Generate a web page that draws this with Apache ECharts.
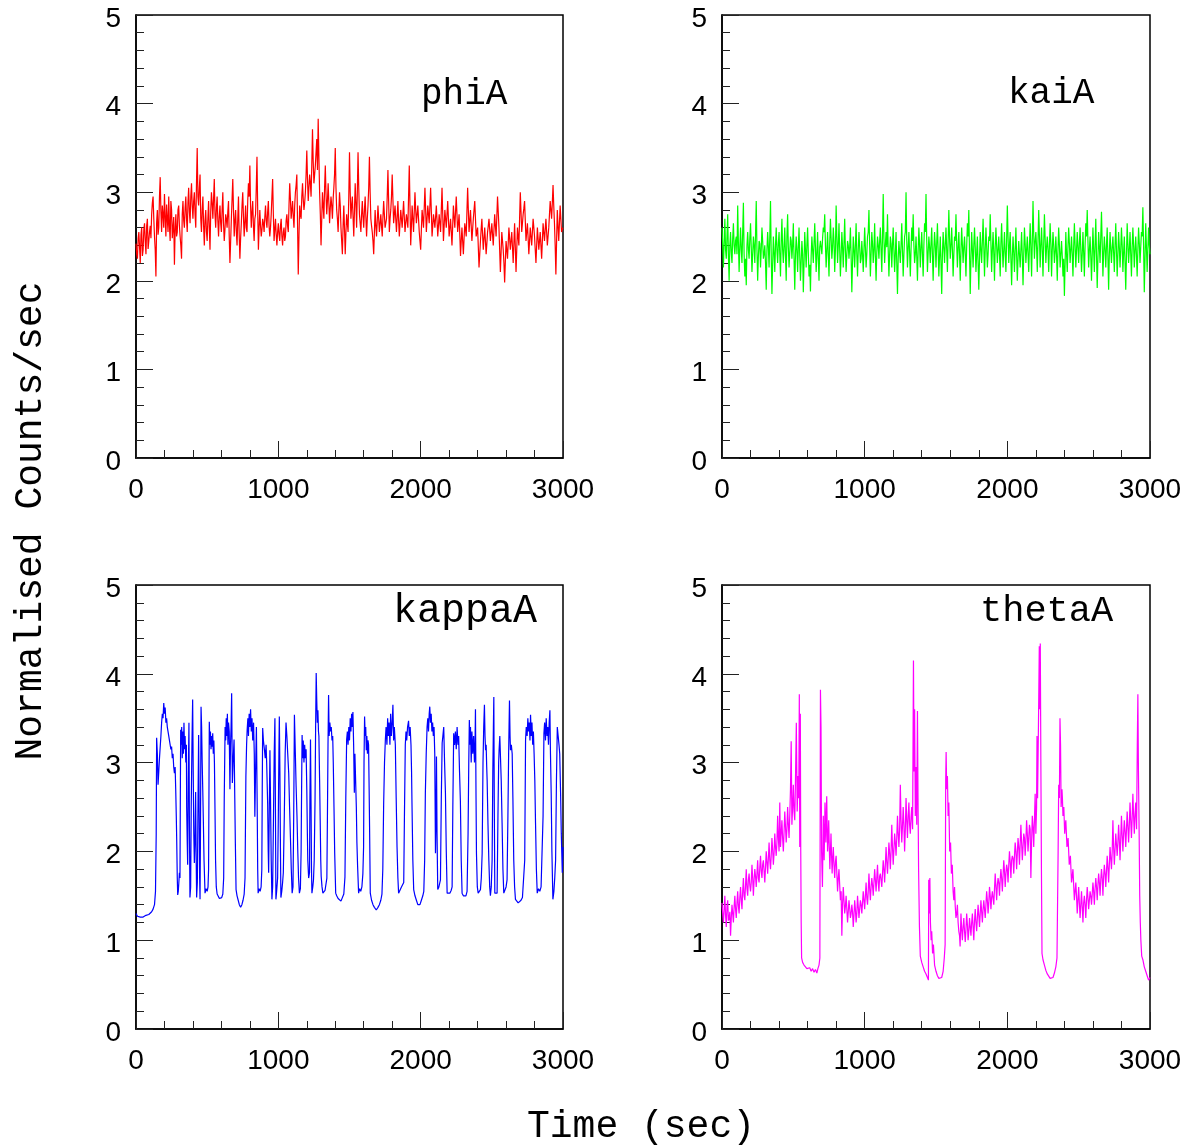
<!DOCTYPE html>
<html><head><meta charset="utf-8">
<script src="https://cdn.jsdelivr.net/npm/echarts@6/dist/echarts.min.js"></script>
<style>html,body{margin:0;padding:0;background:#fff}#c{width:1189px;height:1148px}</style>
</head><body><div id="c"></div><script>
// ---- data ----
const SAMPLE_STEP = 10; // seconds between main samples for phiA / kaiA (mid samples sit halfway)
const panelNames = ['phiA', 'kaiA', 'kappaA', 'thetaA'];
const panelColors = ['#ff0000', '#00ff00', '#0000ff', '#ff00ff'];
const xAxisTitle = 'Time (sec)';
const yAxisTitle = 'Normalised Counts/sec';

const phiValues = [
2.42,2.25,2.55,2.20,2.60,2.35,2.65,2.30,2.70,2.45,
2.62,2.75,2.95,2.50,2.05,2.80,2.60,3.17,2.55,2.75,
2.98,2.50,2.70,2.95,2.45,2.80,2.60,2.18,2.75,2.55,
2.85,2.50,2.25,2.90,2.60,2.95,2.55,3.05,2.65,3.10,
2.70,3.00,2.60,3.50,2.85,3.20,2.55,2.95,2.40,2.80,
2.45,2.90,2.35,3.00,2.70,3.15,2.60,2.95,2.50,2.85,
2.55,3.00,2.45,2.75,2.60,2.90,2.20,2.70,3.15,2.50,
2.80,2.40,2.95,2.25,2.65,3.00,2.50,2.85,2.55,3.10,
3.30,2.60,2.90,2.45,2.75,3.40,2.35,2.80,2.50,2.70,
2.55,2.85,2.60,2.90,2.50,2.75,3.15,2.45,2.70,2.40,
2.65,2.45,2.70,2.40,2.60,2.50,2.75,2.55,3.10,2.70,
2.90,2.60,3.00,3.20,2.07,2.85,2.70,3.10,2.80,3.00,
3.47,2.90,3.20,2.95,3.71,3.10,3.30,3.60,3.83,3.00,
2.40,3.00,2.70,3.30,2.75,3.10,2.65,2.95,2.70,3.05,
3.50,2.80,2.55,3.00,2.60,2.30,2.85,2.30,2.75,2.55,
3.45,2.70,2.95,2.50,3.10,2.60,3.45,2.75,2.55,2.90,
2.60,2.95,2.50,2.85,3.40,2.70,2.55,2.30,2.80,2.50,
2.85,2.55,2.75,2.50,2.90,2.60,2.70,3.25,2.55,2.80,
3.20,2.65,2.85,2.55,2.90,2.50,2.80,2.60,2.90,2.55,
2.75,2.60,3.30,2.40,2.85,2.55,3.00,2.65,2.85,2.55,
2.35,2.80,2.60,3.05,2.55,2.85,2.65,3.05,2.50,2.75,
2.60,2.85,2.50,2.75,2.55,3.05,2.45,2.80,2.60,2.90,
2.50,2.70,2.40,2.85,2.60,2.95,2.55,2.75,2.28,2.60,
2.30,2.65,2.50,3.05,2.55,2.80,2.45,2.70,2.90,2.50,
2.60,2.15,2.45,2.70,2.35,2.60,2.30,2.55,2.70,2.45,
2.65,2.40,2.75,2.50,2.95,2.60,2.10,2.55,2.35,1.98,
2.45,2.25,2.60,2.35,2.55,2.20,2.65,2.10,2.60,2.40,
3.00,2.55,2.75,2.90,2.45,2.65,2.30,2.60,2.40,2.70,
2.50,2.20,2.60,2.35,2.55,2.25,2.65,2.45,2.70,2.40,
2.60,2.90,2.70,3.08,2.65,2.07,2.80,2.45,2.85,2.55,
2.60];

const phiMidValues = [
2.30,2.48,2.38,2.52,2.28,2.58,2.44,2.62,2.36,2.55,
2.48,2.88,2.70,2.35,2.66,2.52,2.95,2.78,2.85,2.60,
2.72,2.86,2.55,2.62,2.90,2.48,2.72,2.58,2.50,2.80,
2.62,2.40,2.75,2.68,2.82,2.70,2.88,2.78,2.95,2.85,
2.90,2.75,3.10,2.95,3.05,2.70,2.80,2.62,2.68,2.55,
2.70,2.60,2.78,2.88,2.92,2.75,2.82,2.68,2.72,2.65,
2.80,2.65,2.58,2.70,2.78,2.50,2.45,2.92,2.80,2.68,
2.55,2.70,2.52,2.48,2.85,2.72,2.66,2.60,2.90,2.95,
2.85,2.78,2.62,2.70,3.05,2.80,2.60,2.62,2.58,2.65,
2.72,2.68,2.78,2.62,2.60,2.95,2.75,2.58,2.52,2.55,
2.52,2.62,2.50,2.55,2.45,2.68,2.62,2.85,2.92,2.80,
2.72,2.85,3.08,2.65,2.50,2.75,2.95,2.92,2.88,3.20,
3.15,3.05,3.10,3.30,3.35,3.20,3.45,3.25,3.40,2.75,
2.70,2.85,3.05,2.98,2.90,2.88,2.82,2.85,2.92,3.20,
3.05,2.70,2.78,2.85,2.45,2.62,2.58,2.55,2.65,2.95,
3.00,2.85,2.72,2.80,2.88,3.00,3.05,2.65,2.75,2.72,
2.80,2.72,2.70,3.05,3.00,2.62,2.45,2.55,2.62,2.68,
2.70,2.65,2.62,2.72,2.75,2.65,2.95,2.90,2.70,2.95,
2.92,2.75,2.70,2.72,2.68,2.65,2.70,2.75,2.72,2.65,
2.68,2.95,2.85,2.62,2.70,2.78,2.80,2.75,2.70,2.45,
2.58,2.70,2.82,2.80,2.70,2.75,2.85,2.78,2.62,2.68,
2.72,2.68,2.62,2.65,2.80,2.75,2.62,2.70,2.75,2.70,
2.60,2.55,2.62,2.72,2.78,2.75,2.65,2.52,2.45,2.45,
2.48,2.58,2.78,2.80,2.68,2.62,2.58,2.80,2.70,2.55,
2.38,2.30,2.58,2.52,2.48,2.45,2.42,2.62,2.58,2.55,
2.52,2.58,2.62,2.72,2.78,2.35,2.32,2.45,2.20,2.22,
2.35,2.42,2.48,2.45,2.38,2.42,2.38,2.35,2.50,2.70,
2.78,2.65,2.82,2.68,2.55,2.48,2.45,2.50,2.55,2.60,
2.35,2.40,2.48,2.45,2.40,2.45,2.55,2.58,2.55,2.50,
2.75,2.80,2.88,2.85,2.40,2.45,2.62,2.65,2.70,2.58];

const kaiValues = [
2.60,2.15,2.70,2.25,2.75,2.00,2.55,2.20,2.65,2.30,
2.50,2.85,2.10,2.60,2.20,2.88,2.05,1.95,2.55,2.25,
2.65,2.10,2.50,2.20,2.90,2.00,2.45,2.15,2.60,2.25,
2.40,1.90,2.55,2.15,2.90,1.85,2.50,2.10,2.60,2.20,
2.55,2.05,2.70,2.20,2.60,2.00,2.75,2.15,2.50,2.25,
2.65,1.90,2.50,2.10,2.60,2.00,2.45,1.87,2.55,2.15,
2.60,2.05,1.88,2.50,2.20,2.65,2.10,2.55,2.00,2.45,
2.30,2.60,2.75,2.15,2.55,2.05,2.70,2.25,2.60,2.10,
2.85,2.20,2.65,2.05,2.55,2.15,2.70,2.10,2.45,2.25,
2.60,1.87,2.50,2.15,2.65,2.05,2.55,2.20,2.45,2.10,
2.60,2.15,2.50,2.80,2.05,2.55,2.20,2.65,2.00,2.50,
2.25,2.60,2.10,2.98,2.20,2.55,2.75,2.05,2.50,2.15,
2.60,2.10,2.55,1.85,2.45,2.20,2.65,2.05,2.50,3.00,
2.15,2.55,2.05,2.60,2.75,2.20,2.50,2.00,2.60,2.15,
2.55,2.05,2.65,2.98,2.10,2.50,2.20,2.60,2.00,2.55,
2.15,2.65,2.05,2.50,1.85,2.55,2.20,2.60,2.10,2.80,
2.25,2.60,2.05,2.50,2.75,2.15,2.55,2.00,2.60,2.20,
2.50,2.05,2.65,2.80,1.85,2.55,2.15,2.60,2.10,2.50,
1.90,2.55,2.20,2.70,2.05,2.60,2.15,2.50,2.75,2.10,
2.55,2.00,2.60,2.20,2.50,2.05,2.65,2.15,2.55,2.10,
2.85,2.20,2.55,1.95,2.50,2.10,2.60,2.00,2.45,2.15,
2.55,1.95,2.60,2.20,2.50,2.10,2.65,2.05,2.90,2.25,
2.55,2.10,2.80,2.15,2.60,2.05,2.75,2.20,2.50,2.10,
2.65,2.05,2.55,2.20,2.50,2.00,2.60,2.15,2.45,2.05,
1.83,2.55,2.10,2.60,2.20,2.50,2.05,2.65,2.15,2.55,
2.20,2.60,2.10,2.55,2.05,2.65,2.80,2.15,2.50,2.00,
2.60,2.10,2.70,1.92,2.55,2.20,2.78,2.05,2.50,2.15,
2.60,1.90,2.55,2.20,2.50,2.10,2.65,2.05,2.55,2.15,
2.60,2.10,2.50,1.90,2.65,2.20,2.55,2.05,2.60,2.15,
2.50,2.05,2.60,2.20,2.55,2.83,1.87,2.65,2.10,2.60,
2.30];

const kaiMidValues = [
2.40,2.45,2.35,2.50,2.28,2.40,2.32,2.48,2.40,2.45,
2.30,2.42,2.38,2.35,2.55,2.30,2.25,2.40,2.35,2.48,
2.38,2.30,2.40,2.52,2.35,2.28,2.42,2.35,2.45,2.30,
2.20,2.35,2.38,2.50,2.30,2.18,2.32,2.40,2.35,2.42,
2.30,2.45,2.35,2.40,2.28,2.50,2.38,2.32,2.45,2.40,
2.25,2.30,2.35,2.38,2.28,2.22,2.30,2.20,2.35,2.40,
2.32,2.18,2.28,2.35,2.42,2.38,2.30,2.25,2.38,2.45,
2.48,2.55,2.40,2.35,2.30,2.42,2.48,2.38,2.45,2.35,
2.50,2.40,2.35,2.28,2.38,2.42,2.35,2.30,2.40,2.38,
2.28,2.20,2.35,2.40,2.30,2.35,2.38,2.25,2.30,2.35,
2.38,2.30,2.55,2.40,2.30,2.42,2.35,2.28,2.32,2.40,
2.45,2.35,2.50,2.48,2.40,2.38,2.35,2.30,2.42,2.40,
2.35,2.30,2.20,2.25,2.32,2.40,2.35,2.30,2.55,2.45,
2.38,2.32,2.35,2.45,2.40,2.30,2.28,2.35,2.40,2.38,
2.30,2.40,2.55,2.45,2.32,2.38,2.42,2.30,2.35,2.40,
2.42,2.35,2.28,2.20,2.30,2.38,2.42,2.35,2.45,2.48,
2.40,2.35,2.30,2.45,2.42,2.38,2.30,2.35,2.40,2.38,
2.30,2.38,2.50,2.32,2.25,2.35,2.40,2.38,2.30,2.20,
2.25,2.35,2.45,2.40,2.35,2.40,2.30,2.45,2.42,2.35,
2.32,2.38,2.40,2.35,2.30,2.42,2.38,2.35,2.30,2.45,
2.50,2.40,2.25,2.28,2.32,2.35,2.30,2.25,2.30,2.35,
2.28,2.30,2.42,2.35,2.30,2.40,2.38,2.45,2.52,2.45,
2.38,2.45,2.50,2.40,2.35,2.42,2.48,2.38,2.35,2.40,
2.42,2.35,2.40,2.32,2.30,2.35,2.40,2.30,2.28,2.25,
2.20,2.30,2.38,2.42,2.35,2.30,2.38,2.40,2.35,2.38,
2.42,2.35,2.30,2.32,2.40,2.50,2.45,2.35,2.28,2.30,
2.35,2.40,2.30,2.25,2.38,2.50,2.42,2.32,2.35,2.40,
2.28,2.30,2.35,2.38,2.32,2.40,2.35,2.30,2.38,2.35,
2.40,2.32,2.22,2.28,2.42,2.35,2.30,2.38,2.40,2.35,
2.30,2.35,2.42,2.38,2.50,2.40,2.25,2.38,2.35,2.40];

const kappaPoints = [
[0,1.30],[10,1.27],[20,1.28],[30,1.26],[40,1.27],[50,1.26],[60,1.27],[70,1.28],[80,1.27],[90,1.29],[100,1.30],[110,1.32],[120,1.35],[130,1.40],[137,1.55],[142,2.20],[145,3.28],[150,3.10],[155,2.75],[160,2.90],[165,3.05],[170,3.07],[175,3.30],[180,3.45],[185,3.55],[190,3.50],[195,3.67],[200,3.55],[205,3.62],[210,3.45],[215,3.50],[220,3.40],[225,3.38],[230,3.30],[235,3.25],[240,3.20],[245,3.15],[250,3.18],[255,3.05],[260,3.10],[265,2.95],[270,2.88],[275,2.95],[279,2.70],[283,2.40],[286,2.13],[290,1.70],[293,1.51],[297,1.55],[301,1.65],[305,1.76],[309,1.70],[312,2.80],[314,3.37],[318,3.20],[321,3.40],[325,3.05],[329,3.35],[333,3.10],[337,3.45],[341,3.15],[345,3.30],[350,3.00],[354,3.20],[356,2.50],[360,2.10],[363,1.85],[367,2.80],[372,3.45],[375,2.40],[379,1.48],[384,1.60],[388,2.50],[393,3.20],[398,3.71],[402,2.90],[406,2.20],[410,1.87],[414,2.10],[419,2.67],[423,1.90],[426,1.48],[431,1.65],[436,2.60],[440,3.31],[444,2.40],[447,1.70],[450,1.46],[453,2.20],[457,3.63],[461,3.40],[465,3.00],[469,2.70],[473,2.36],[478,1.90],[485,1.53],[492,1.58],[500,1.55],[506,1.60],[510,1.80],[513,2.80],[515,3.46],[519,3.20],[523,3.35],[527,3.15],[531,3.30],[535,3.18],[539,3.33],[543,3.10],[547,3.25],[551,3.00],[555,2.47],[559,1.90],[564,1.60],[570,1.52],[578,1.50],[586,1.47],[594,1.46],[602,1.48],[610,1.52],[616,1.70],[620,2.60],[626,3.40],[630,3.25],[634,3.50],[638,3.30],[642,3.55],[646,3.20],[650,3.45],[655,3.35],[660,2.70],[664,3.20],[668,3.40],[672,3.78],[677,2.77],[682,3.00],[689,3.26],[694,2.60],[698,2.10],[703,1.57],[710,1.50],[718,1.45],[726,1.40],[735,1.37],[744,1.40],[752,1.45],[760,1.52],[766,1.70],[772,2.84],[777,3.20],[781,3.37],[786,3.50],[790,3.30],[795,3.55],[800,3.40],[805,3.60],[810,3.35],[815,3.50],[820,3.25],[826,3.45],[831,3.10],[835,2.39],[840,2.90],[846,3.40],[851,2.60],[855,1.80],[858,1.53],[865,1.58],[872,1.55],[879,1.60],[884,1.80],[887,2.70],[890,3.39],[895,3.25],[902,3.15],[908,3.05],[914,3.20],[918,3.00],[925,2.54],[929,2.00],[932,1.76],[936,2.40],[941,3.14],[945,2.60],[950,1.90],[955,1.46],[960,1.60],[966,2.40],[971,3.10],[976,3.50],[980,2.40],[983,1.46],[988,1.55],[995,1.70],[1000,2.40],[1004,3.10],[1007,3.52],[1011,2.90],[1015,2.00],[1018,1.48],[1024,1.55],[1030,1.65],[1035,1.76],[1042,2.40],[1048,3.10],[1054,3.45],[1060,3.30],[1066,3.10],[1073,2.88],[1079,2.50],[1085,2.16],[1091,1.80],[1097,1.53],[1103,1.60],[1108,2.40],[1113,3.54],[1118,3.20],[1125,2.73],[1131,2.40],[1137,1.98],[1142,1.70],[1148,1.53],[1155,1.58],[1160,2.00],[1164,2.80],[1167,3.31],[1171,3.05],[1175,3.25],[1180,3.00],[1185,3.20],[1190,3.05],[1195,3.15],[1200,2.70],[1204,2.20],[1207,1.90],[1213,1.70],[1219,1.76],[1222,2.60],[1226,3.26],[1230,2.50],[1233,1.80],[1236,1.53],[1242,1.60],[1247,1.68],[1252,1.90],[1258,2.60],[1262,3.40],[1266,4.01],[1270,3.70],[1274,3.45],[1278,3.59],[1282,3.35],[1285,3.30],[1290,2.80],[1294,2.36],[1298,1.90],[1301,1.72],[1307,1.60],[1313,1.53],[1320,1.55],[1328,1.56],[1335,1.58],[1341,1.70],[1345,2.40],[1349,3.20],[1353,3.76],[1357,3.30],[1362,3.45],[1367,3.35],[1372,3.40],[1377,3.25],[1382,3.30],[1386,3.00],[1391,2.50],[1396,1.98],[1403,1.53],[1410,1.50],[1420,1.47],[1430,1.45],[1440,1.44],[1450,1.46],[1460,1.52],[1468,1.71],[1474,2.60],[1480,3.26],[1485,3.35],[1490,3.20],[1495,3.40],[1500,3.25],[1505,3.50],[1510,3.35],[1515,3.55],[1519,3.40],[1524,3.57],[1529,3.20],[1534,2.66],[1538,3.10],[1543,2.80],[1548,2.50],[1552,2.10],[1557,1.83],[1564,1.53],[1571,1.58],[1579,1.55],[1587,1.60],[1594,1.75],[1599,2.05],[1602,3.00],[1606,3.52],[1610,3.30],[1614,3.40],[1618,3.14],[1622,3.30],[1626,3.10],[1630,3.25],[1634,3.20],[1638,2.70],[1641,2.28],[1646,1.53],[1655,1.45],[1665,1.40],[1675,1.37],[1688,1.34],[1700,1.37],[1710,1.40],[1720,1.45],[1728,1.52],[1734,1.80],[1740,2.54],[1746,3.00],[1752,3.26],[1757,3.40],[1763,3.20],[1768,3.50],[1773,3.30],[1778,3.45],[1784,3.20],[1789,3.55],[1794,3.30],[1800,3.45],[1805,3.65],[1810,3.25],[1815,3.40],[1822,3.20],[1828,2.60],[1834,2.05],[1840,1.70],[1845,1.53],[1855,1.55],[1865,1.60],[1874,1.58],[1881,1.65],[1886,2.40],[1892,3.20],[1897,3.35],[1902,3.25],[1908,3.40],[1915,3.47],[1920,3.30],[1926,3.40],[1932,3.20],[1936,2.90],[1939,2.54],[1945,1.90],[1951,1.57],[1960,1.50],[1970,1.45],[1980,1.40],[1986,1.38],[1995,1.40],[2005,1.45],[2015,1.50],[2022,1.55],[2028,1.90],[2033,2.66],[2039,3.10],[2045,3.40],[2050,3.50],[2055,3.35],[2060,3.55],[2064,3.63],[2069,3.45],[2074,3.55],[2079,3.35],[2084,3.45],[2089,3.30],[2094,3.40],[2099,3.10],[2104,1.98],[2108,2.40],[2111,3.07],[2115,2.20],[2120,1.57],[2128,1.60],[2135,1.65],[2139,1.68],[2145,2.60],[2151,3.22],[2156,3.30],[2162,3.40],[2168,3.00],[2174,2.66],[2180,2.00],[2186,1.53],[2195,1.55],[2205,1.53],[2214,1.56],[2221,1.60],[2226,2.50],[2232,3.33],[2238,3.20],[2244,3.35],[2250,3.15],[2256,3.40],[2262,3.20],[2267,3.30],[2273,2.90],[2279,2.57],[2285,1.90],[2291,1.53],[2300,1.50],[2310,1.48],[2318,1.50],[2326,1.55],[2333,2.20],[2338,3.00],[2342,3.48],[2346,3.20],[2350,3.40],[2355,3.00],[2360,3.35],[2366,3.10],[2372,3.30],[2378,3.00],[2382,3.20],[2385,3.60],[2389,2.60],[2392,1.98],[2398,1.60],[2404,1.53],[2412,1.55],[2420,1.57],[2426,1.70],[2432,1.98],[2438,3.00],[2443,3.40],[2448,3.65],[2452,3.30],[2456,3.14],[2460,3.20],[2464,2.95],[2467,2.80],[2473,2.30],[2479,1.90],[2485,1.60],[2490,1.50],[2496,1.60],[2502,1.90],[2507,2.90],[2511,3.40],[2514,3.74],[2517,2.60],[2521,1.53],[2529,1.55],[2537,1.53],[2543,2.40],[2548,3.00],[2551,3.14],[2556,3.30],[2561,3.05],[2566,2.80],[2572,2.32],[2578,1.80],[2584,1.53],[2592,1.55],[2600,1.60],[2607,1.68],[2613,2.40],[2618,3.10],[2621,3.40],[2624,3.70],[2628,3.30],[2631,3.14],[2637,3.20],[2643,3.10],[2648,2.60],[2654,1.90],[2660,1.60],[2666,1.46],[2675,1.44],[2685,1.42],[2695,1.43],[2705,1.45],[2715,1.48],[2725,1.50],[2731,1.90],[2737,3.26],[2742,3.40],[2748,3.30],[2753,3.50],[2758,3.35],[2763,3.45],[2768,3.25],[2772,3.54],[2777,3.30],[2782,3.45],[2787,3.20],[2792,3.35],[2797,3.10],[2802,2.80],[2807,2.32],[2813,1.80],[2819,1.53],[2828,1.58],[2837,1.55],[2846,1.60],[2854,1.62],[2860,2.40],[2866,3.33],[2871,3.45],[2877,3.25],[2882,3.50],[2888,3.30],[2893,3.40],[2898,3.20],[2903,3.45],[2908,3.59],[2912,3.10],[2917,2.66],[2922,2.00],[2929,1.46],[2936,1.55],[2942,1.70],[2948,1.90],[2954,2.80],[2960,3.40],[2966,3.30],[2972,3.20],[2977,3.10],[2983,2.66],[2988,2.20],[2995,1.76],[3000,2.05]];

const thetaPoints = [
[0,1.42],[10,1.20],[20,1.50],[30,1.15],[40,1.45],[50,1.25],[60,1.05],[70,1.40],[80,1.20],[90,1.50],[100,1.25],[110,1.55],[120,1.30],[130,1.60],[140,1.35],[150,1.70],[160,1.45],[170,1.80],[180,1.50],[190,1.75],[200,1.55],[210,1.85],[220,1.50],[230,1.80],[240,1.60],[250,1.90],[260,1.65],[270,1.95],[280,1.70],[290,1.90],[300,1.65],[310,2.00],[320,1.75],[330,2.10],[340,1.80],[350,2.15],[360,1.85],[370,2.20],[380,1.95],[390,2.40],[400,2.00],[405,2.55],[410,2.05],[420,2.35],[430,2.00],[440,2.45],[450,2.10],[460,2.50],[470,2.15],[480,2.70],[485,3.24],[490,2.30],[500,2.75],[510,2.35],[515,2.80],[521,3.45],[527,2.45],[533,2.85],[538,2.60],[542,3.77],[545,2.05],[549,3.55],[552,2.00],[555,1.20],[558,0.80],[565,0.75],[575,0.72],[585,0.70],[595,0.68],[605,0.66],[615,0.69],[625,0.65],[635,0.68],[645,0.64],[655,0.67],[665,0.63],[672,0.68],[680,0.72],[686,0.80],[690,3.82],[694,3.40],[698,2.00],[704,1.60],[710,2.40],[716,1.90],[722,2.55],[728,2.10],[734,2.62],[740,2.00],[748,2.35],[756,1.80],[764,2.20],[772,1.75],[780,2.05],[790,1.70],[800,1.95],[810,1.55],[820,1.80],[830,1.45],[840,1.05],[850,1.60],[860,1.30],[870,1.50],[880,1.20],[890,1.45],[900,1.25],[910,1.40],[920,1.15],[930,1.45],[940,1.20],[950,1.50],[960,1.25],[970,1.45],[980,1.30],[990,1.55],[1000,1.35],[1010,1.65],[1020,1.40],[1030,1.75],[1040,1.45],[1050,1.70],[1060,1.50],[1070,1.80],[1080,1.55],[1090,1.85],[1100,1.55],[1110,1.75],[1120,1.60],[1130,1.90],[1140,1.65],[1150,2.05],[1160,1.75],[1170,2.10],[1180,1.80],[1190,2.30],[1200,1.85],[1210,2.20],[1220,1.95],[1230,2.40],[1240,2.05],[1250,2.75],[1260,2.10],[1270,2.50],[1280,2.00],[1290,2.60],[1300,2.15],[1310,2.55],[1320,2.20],[1330,2.50],[1336,2.25],[1342,4.15],[1346,2.90],[1350,3.60],[1355,2.40],[1360,2.95],[1365,2.30],[1370,3.58],[1374,2.60],[1378,1.80],[1384,1.15],[1390,0.82],[1400,0.75],[1410,0.70],[1420,0.65],[1430,0.62],[1440,0.58],[1447,0.55],[1449,1.68],[1453,1.30],[1457,1.70],[1461,1.20],[1466,1.00],[1470,1.10],[1476,0.85],[1482,0.95],[1490,0.72],[1500,0.65],[1510,0.60],[1520,0.57],[1530,0.55],[1540,0.58],[1550,0.65],[1558,0.80],[1564,0.95],[1568,2.80],[1571,3.12],[1575,2.70],[1580,2.85],[1585,2.40],[1590,2.55],[1596,2.00],[1602,2.10],[1608,1.75],[1614,1.85],[1620,1.55],[1630,1.60],[1640,1.25],[1650,1.40],[1660,1.10],[1669,0.93],[1675,1.30],[1685,1.00],[1695,1.25],[1705,0.98],[1715,1.30],[1725,1.00],[1735,1.25],[1745,1.05],[1755,1.30],[1765,1.00],[1775,1.35],[1785,1.10],[1795,1.40],[1805,1.15],[1815,1.45],[1825,1.20],[1835,1.45],[1845,1.25],[1855,1.55],[1865,1.30],[1875,1.60],[1885,1.35],[1895,1.55],[1905,1.40],[1915,1.75],[1925,1.45],[1935,1.70],[1945,1.50],[1955,1.80],[1965,1.55],[1975,1.90],[1985,1.60],[1995,1.85],[2005,1.65],[2015,2.00],[2025,1.70],[2035,1.95],[2045,1.75],[2055,2.10],[2065,1.80],[2075,2.15],[2085,1.85],[2095,2.30],[2105,1.90],[2115,2.20],[2125,1.95],[2135,2.35],[2145,2.00],[2155,2.30],[2165,1.70],[2175,2.40],[2185,2.05],[2195,2.65],[2200,2.20],[2205,2.50],[2208,3.30],[2212,2.60],[2218,3.40],[2224,4.31],[2228,3.60],[2231,4.34],[2235,3.00],[2239,1.80],[2243,0.85],[2250,0.78],[2260,0.72],[2270,0.66],[2280,0.62],[2290,0.60],[2300,0.57],[2310,0.55],[2320,0.58],[2330,0.63],[2340,0.70],[2348,0.80],[2356,2.00],[2360,2.75],[2365,2.60],[2369,3.50],[2373,3.20],[2377,2.50],[2383,2.70],[2390,2.40],[2396,2.50],[2402,2.20],[2410,2.35],[2418,2.05],[2426,2.15],[2434,1.85],[2442,1.95],[2450,1.65],[2460,1.80],[2470,1.45],[2480,1.65],[2490,1.30],[2500,1.60],[2510,1.25],[2520,1.55],[2530,1.20],[2540,1.50],[2550,1.25],[2560,1.60],[2570,1.35],[2580,1.55],[2590,1.40],[2600,1.65],[2610,1.40],[2620,1.70],[2630,1.45],[2640,1.75],[2650,1.50],[2660,1.80],[2670,1.50],[2680,1.85],[2690,1.60],[2700,1.95],[2710,1.65],[2720,2.05],[2730,1.80],[2740,2.35],[2750,1.85],[2760,2.20],[2770,1.95],[2780,2.30],[2790,1.90],[2800,2.40],[2810,2.00],[2820,2.35],[2830,2.05],[2840,2.45],[2850,2.10],[2860,2.55],[2870,2.15],[2880,2.65],[2890,2.20],[2900,2.55],[2906,2.25],[2911,3.20],[2915,3.77],[2919,2.90],[2924,2.20],[2928,1.50],[2932,1.20],[2936,1.00],[2942,0.82],[2950,0.78],[2960,0.70],[2970,0.65],[2980,0.60],[2990,0.55],[3000,0.58]];

const thetaMidPoints = [
[5,1.30],[15,1.35],[25,1.28],[35,1.38],[45,1.22],[55,1.32],[65,1.25],[75,1.30],[85,1.38],[95,1.35],[105,1.42],[115,1.38],[125,1.48],[135,1.45],[145,1.55],[155,1.50],[165,1.62],[175,1.58],[185,1.68],[195,1.62],[205,1.65],[215,1.70],[225,1.68],[235,1.72],[245,1.75],[255,1.70],[265,1.82],[275,1.78],[285,1.85],[295,1.78],[305,1.82],[315,1.88],[325,1.92],[335,1.90],[345,1.95],[355,2.02],[365,1.98],[375,2.05],[385,2.10],[395,2.15],[415,2.20],[425,2.15],[435,2.22],[445,2.28],[455,2.25],[465,2.30],[475,2.40],[495,2.50],[505,2.45],
[744,2.15],[752,2.05],[760,2.00],[768,1.95],[776,1.92],[785,1.85],[795,1.88],[805,1.75],[815,1.70],[825,1.62],[835,1.55],[845,1.40],[855,1.45],[865,1.38],[875,1.35],[885,1.32],[895,1.36],[905,1.30],[915,1.32],[925,1.28],[935,1.35],[945,1.30],[955,1.38],[965,1.35],[975,1.40],[985,1.42],[995,1.45],[1005,1.50],[1015,1.48],[1025,1.55],[1035,1.58],[1045,1.60],[1055,1.62],[1065,1.65],[1075,1.68],[1085,1.70],[1095,1.65],[1105,1.72],[1115,1.68],[1125,1.75],[1135,1.80],[1145,1.85],[1155,1.88],[1165,1.92],[1175,1.98],[1185,2.00],[1195,2.05],[1205,2.02],[1215,2.10],[1225,2.15],[1235,2.20],[1245,2.25],[1255,2.35],[1265,2.28],[1275,2.30],[1285,2.25],[1295,2.35],[1305,2.40],[1315,2.30],[1325,2.38],
[1625,1.45],[1635,1.38],[1645,1.30],[1655,1.20],[1665,1.05],[1680,1.12],[1690,1.15],[1700,1.10],[1710,1.12],[1720,1.18],[1730,1.10],[1740,1.15],[1750,1.20],[1760,1.15],[1770,1.22],[1780,1.20],[1790,1.25],[1800,1.28],[1810,1.30],[1820,1.32],[1830,1.35],[1840,1.35],[1850,1.40],[1860,1.45],[1870,1.42],[1880,1.50],[1890,1.48],[1900,1.55],[1910,1.58],[1920,1.60],[1930,1.62],[1940,1.65],[1950,1.68],[1960,1.70],[1970,1.72],[1980,1.78],[1990,1.75],[2000,1.80],[2010,1.85],[2020,1.88],[2030,1.90],[2040,1.92],[2050,1.95],[2060,2.00],[2070,1.98],[2080,2.05],[2090,2.08],[2100,2.10],[2110,2.05],[2120,2.15],[2130,2.12],[2140,2.20],[2150,2.15],[2160,2.25],[2170,2.10],[2180,2.28],[2190,2.35],
[2386,2.60],[2393,2.45],[2399,2.35],[2406,2.30],[2414,2.20],[2422,2.10],[2430,2.00],[2438,1.90],[2446,1.80],[2455,1.72],[2465,1.62],[2475,1.55],[2485,1.50],[2495,1.45],[2505,1.42],[2515,1.40],[2525,1.38],[2535,1.42],[2545,1.40],[2555,1.45],[2565,1.48],[2575,1.45],[2585,1.50],[2595,1.52],[2605,1.55],[2615,1.58],[2625,1.60],[2635,1.62],[2645,1.65],[2655,1.68],[2665,1.70],[2675,1.72],[2685,1.75],[2695,1.78],[2705,1.82],[2715,1.85],[2725,1.92],[2735,2.00],[2745,2.05],[2755,2.02],[2765,2.08],[2775,2.10],[2785,2.12],[2795,2.15],[2805,2.18],[2815,2.20],[2825,2.22],[2835,2.25],[2845,2.28],[2855,2.30],[2865,2.35],[2875,2.38],[2885,2.40],[2895,2.42]];

// ---- chart ----
function interleave(main, mid) {
  const out = [];
  main.forEach((v, i) => {
    out.push([i * SAMPLE_STEP, v]);
    if (i < mid.length) out.push([i * SAMPLE_STEP + SAMPLE_STEP / 2, mid[i]]);
  });
  return out;
}
const byTime = (a, b) => a[0] - b[0];
const seriesData = [
  interleave(phiValues, phiMidValues),
  interleave(kaiValues, kaiMidValues),
  kappaPoints,
  thetaPoints.concat(thetaMidPoints).sort(byTime)
];

const grids = [
  {left: 136, top: 15, width: 427, height: 443},
  {left: 722, top: 15, width: 428, height: 443},
  {left: 136, top: 585, width: 427, height: 444},
  {left: 722, top: 585, width: 428, height: 444}
];
const tickColor = '#222';
const labelFont = {fontFamily: 'Liberation Sans, Arial, sans-serif', fontSize: 28, color: '#000', formatter: v => String(v)};

const option = {
  animation: false,
  backgroundColor: '#fff',
  grid: grids.map(g => Object.assign({show: true, borderColor: '#000', borderWidth: 1.5, containLabel: false}, g)),
  xAxis: grids.map((g, i) => ({
    type: 'value', gridIndex: i, min: 0, max: 3000, interval: 1000,
    axisLine: {show: true, onZero: false, lineStyle: {color: '#000', width: 1.5}},
    axisTick: {show: true, inside: true, length: 17, lineStyle: {color: tickColor, width: 1}},
    minorTick: {show: true, splitNumber: 5, length: 8, lineStyle: {color: tickColor, width: 1}},
    axisLabel: Object.assign({margin: 18}, labelFont),
    splitLine: {show: false}, minorSplitLine: {show: false}
  })),
  yAxis: grids.map((g, i) => ({
    type: 'value', gridIndex: i, min: 0, max: 5, interval: 1,
    axisLine: {show: true, onZero: false, lineStyle: {color: '#000', width: 1.5}},
    axisTick: {show: true, inside: true, length: 17, lineStyle: {color: tickColor, width: 1}},
    minorTick: {show: true, splitNumber: 5, length: 8, lineStyle: {color: tickColor, width: 1}},
    axisLabel: Object.assign({margin: 15, verticalAlign: 'top', lineHeight: 8}, labelFont),
    splitLine: {show: false}, minorSplitLine: {show: false}
  })),
  series: seriesData.map((d, i) => ({
    type: 'line', xAxisIndex: i, yAxisIndex: i, data: d,
    showSymbol: false, symbol: 'none', sampling: false, clip: true,
    lineStyle: {color: panelColors[i], width: 1.2},
    emphasis: {disabled: true}, silent: true
  })),
  graphic: [
    {type: 'text', x: 421, y: 94, style: {text: panelNames[0], font: '36px "Liberation Mono"', fill: '#000', align: 'left', verticalAlign: 'middle'}},
    {type: 'text', x: 1008, y: 93, style: {text: panelNames[1], font: '36px "Liberation Mono"', fill: '#000', align: 'left', verticalAlign: 'middle'}},
    {type: 'text', x: 393, y: 611, style: {text: panelNames[2], font: '40px "Liberation Mono"', fill: '#000', align: 'left', verticalAlign: 'middle'}},
    {type: 'text', x: 980, y: 611, style: {text: panelNames[3], font: '37px "Liberation Mono"', fill: '#000', align: 'left', verticalAlign: 'middle'}},
    {type: 'text', x: 641, y: 1127, style: {text: xAxisTitle, font: '38px "Liberation Mono"', fill: '#000', align: 'center', verticalAlign: 'middle'}},
    {type: 'text', x: 31, y: 521, rotation: Math.PI / 2, style: {text: yAxisTitle, font: '38px "Liberation Mono"', fill: '#000', align: 'center', verticalAlign: 'middle'}}
  ]
};
const chart = echarts.init(document.getElementById('c'), null, {renderer: 'canvas'});
chart.setOption(option);
</script></body></html>
